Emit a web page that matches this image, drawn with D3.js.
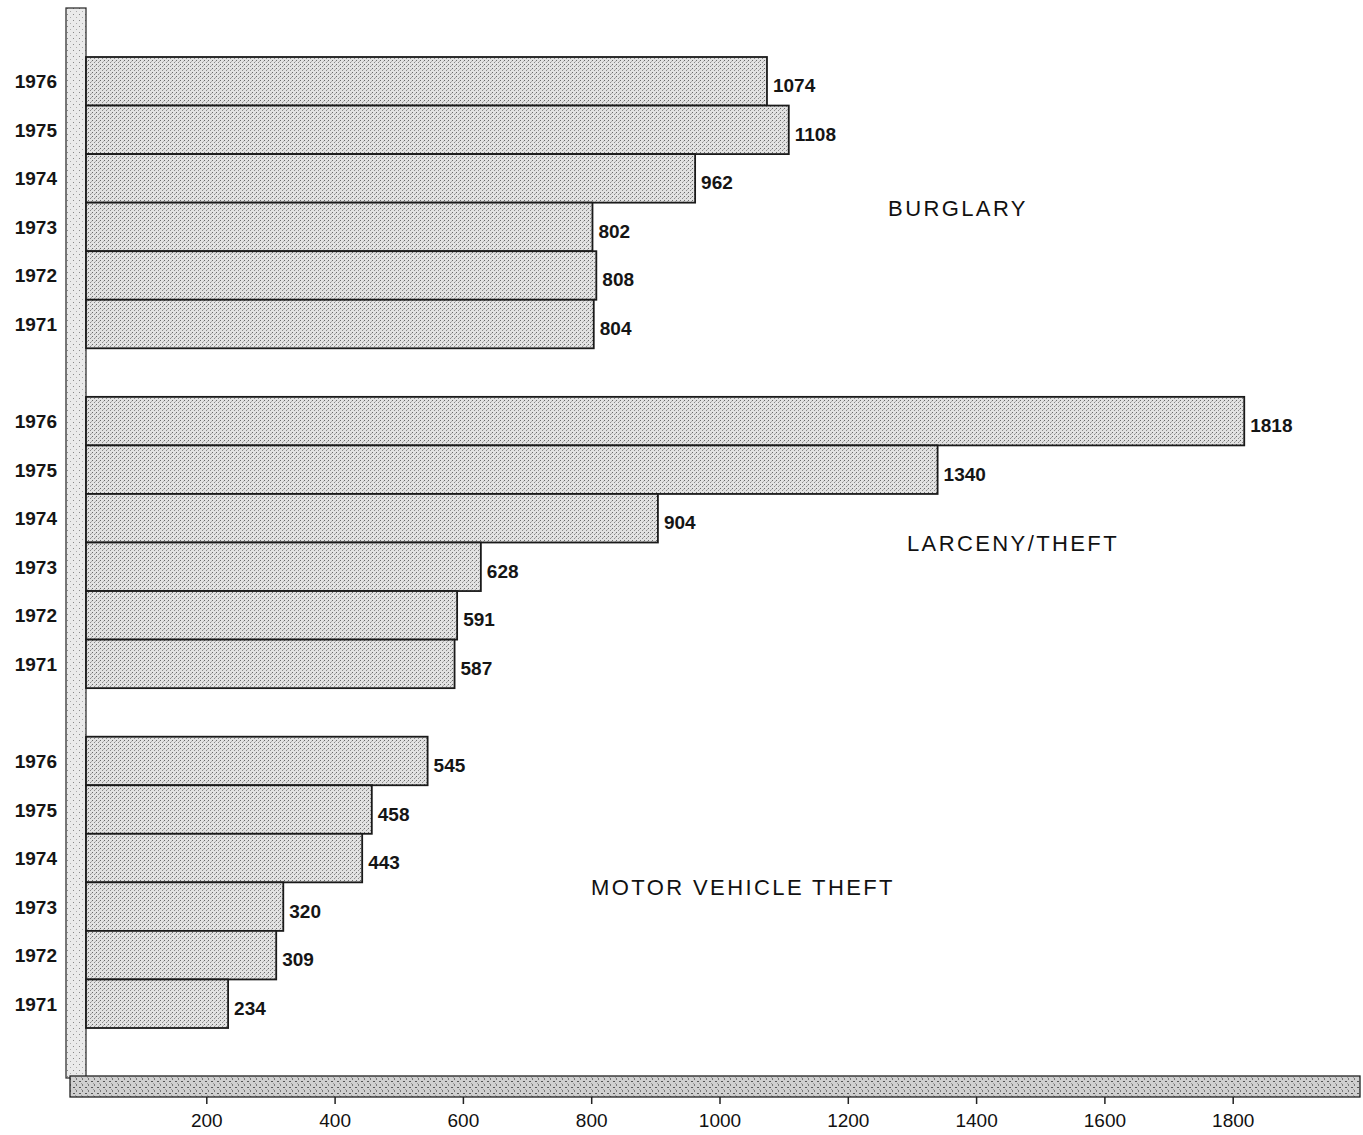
<!DOCTYPE html>
<html><head><meta charset="utf-8">
<script src="https://cdn.jsdelivr.net/npm/d3@7"></script>
<style>body{margin:0;background:#fff}svg{display:block}</style>
</head><body>
<script>
// ---- data ----
const categories = ["BURGLARY", "LARCENY/THEFT", "MOTOR VEHICLE THEFT"];
const years = ["1976", "1975", "1974", "1973", "1972", "1971"];
const burglary = [1074, 1108, 962, 802, 808, 804];
const larceny = [1818, 1340, 904, 628, 591, 587];
const motorVehicle = [545, 458, 443, 320, 309, 234];
const tickValues = [200, 400, 600, 800, 1000, 1200, 1400, 1600, 1800];

const series = [burglary, larceny, motorVehicle];

// ---- layout ----
const W = 1363, H = 1135;
const svg = d3.select("body").append("svg").attr("width", W).attr("height", H);
const font = "Liberation Sans, Arial, Helvetica, sans-serif";

const defs = svg.append("defs");
// stipple pattern for bars
const pat = defs.append("pattern").attr("id", "stip").attr("width", 4).attr("height", 4)
  .attr("patternUnits", "userSpaceOnUse");
pat.append("rect").attr("width", 4).attr("height", 4).attr("fill", "#e2e2e2");
pat.append("rect").attr("x", 0).attr("y", 0).attr("width", 1).attr("height", 1).attr("fill", "#6a6a6a");
pat.append("rect").attr("x", 2).attr("y", 2).attr("width", 1).attr("height", 1).attr("fill", "#8a8a8a");
pat.append("rect").attr("x", 3).attr("y", 1).attr("width", 1).attr("height", 1).attr("fill", "#b0b0b0");
// coarser pattern for axis strips
const pat2 = defs.append("pattern").attr("id", "strip").attr("width", 6).attr("height", 6)
  .attr("patternUnits", "userSpaceOnUse");
pat2.append("rect").attr("width", 6).attr("height", 6).attr("fill", "#cfcfcf");
pat2.append("rect").attr("x", 1).attr("y", 1).attr("width", 2).attr("height", 1).attr("fill", "#555");
pat2.append("rect").attr("x", 4).attr("y", 4).attr("width", 1).attr("height", 2).attr("fill", "#777");
pat2.append("rect").attr("x", 3).attr("y", 3).attr("width", 1).attr("height", 1).attr("fill", "#999");
const pat3 = defs.append("pattern").attr("id", "stripL").attr("width", 6).attr("height", 6)
  .attr("patternUnits", "userSpaceOnUse");
pat3.append("rect").attr("width", 6).attr("height", 6).attr("fill", "#eaeaea");
pat3.append("rect").attr("x", 1).attr("y", 2).attr("width", 1).attr("height", 1).attr("fill", "#888");
pat3.append("rect").attr("x", 4).attr("y", 5).attr("width", 1).attr("height", 1).attr("fill", "#aaa");

const x = d3.scaleLinear().domain([0, 2000]).range([78, 1361]);
const barLeft = 86;

// row keys: 6 bars, spacer, 6 bars, spacer, 6 bars
const rowKeys = [];
categories.forEach((c, ci) => {
  years.forEach(yv => rowKeys.push(c + "|" + yv));
  if (ci < categories.length - 1) rowKeys.push("gap" + ci);
});
const y = d3.scaleBand().domain(rowKeys).range([57, 1028]).padding(0);

const rows = [];
categories.forEach((c, ci) => years.forEach((yv, yi) =>
  rows.push({cat: c, year: yv, value: series[ci][yi], key: c + "|" + yv})));

// left vertical strip
svg.append("rect").attr("x", 66).attr("y", 8).attr("width", 20).attr("height", 1070)
  .attr("fill", "url(#stripL)").attr("stroke", "#333").attr("stroke-width", 1.3);

// bars
svg.append("g").selectAll("rect").data(rows).join("rect")
  .attr("x", barLeft)
  .attr("y", d => y(d.key))
  .attr("width", d => x(d.value) - barLeft)
  .attr("height", y.bandwidth())
  .attr("fill", "url(#stip)")
  .attr("stroke", "#1a1a1a").attr("stroke-width", 1.8);

// value labels
svg.append("g").selectAll("text").data(rows).join("text")
  .attr("x", d => x(d.value) + 6)
  .attr("y", d => y(d.key) + y.bandwidth() / 2 + 11)
  .attr("font-family", font).attr("font-size", 19).attr("font-weight", "bold").attr("fill", "#151515")
  .text(d => d.value);

// year labels
svg.append("g").selectAll("text").data(rows).join("text")
  .attr("x", 57)
  .attr("y", d => y(d.key) + y.bandwidth() / 2 + 7)
  .attr("text-anchor", "end")
  .attr("font-family", font).attr("font-size", 19).attr("font-weight", "bold").attr("fill", "#151515")
  .text(d => d.year);

// category labels
const catLabelX = [958, 1013, 743];
const catLabelDy = [13, 8, 13];
svg.append("g").selectAll("text").data(categories).join("text")
  .attr("x", (d, i) => catLabelX[i])
  .attr("y", (d, i) => y(d + "|1973") + catLabelDy[i])
  .attr("text-anchor", "middle")
  .attr("font-family", font).attr("font-size", 22).attr("letter-spacing", 2.4)
  .attr("fill", "#111")
  .text(d => d);

// bottom strip (axis)
svg.append("rect").attr("x", 70).attr("y", 1076).attr("width", 1290).attr("height", 21)
  .attr("fill", "url(#strip)").attr("stroke", "#222").attr("stroke-width", 1.3);

const axis = d3.axisBottom(x).tickValues(tickValues).tickFormat(d3.format("d"))
  .tickSize(7).tickSizeOuter(0);
const ag = svg.append("g").attr("transform", "translate(0,1097)").call(axis);
ag.select(".domain").remove();
ag.selectAll(".tick line").attr("stroke", "#222").attr("stroke-width", 1.5);
ag.selectAll(".tick text").attr("font-family", font).attr("font-size", 19)
  .attr("fill", "#111").attr("dy", "1.05em");
</script>
</body></html>
